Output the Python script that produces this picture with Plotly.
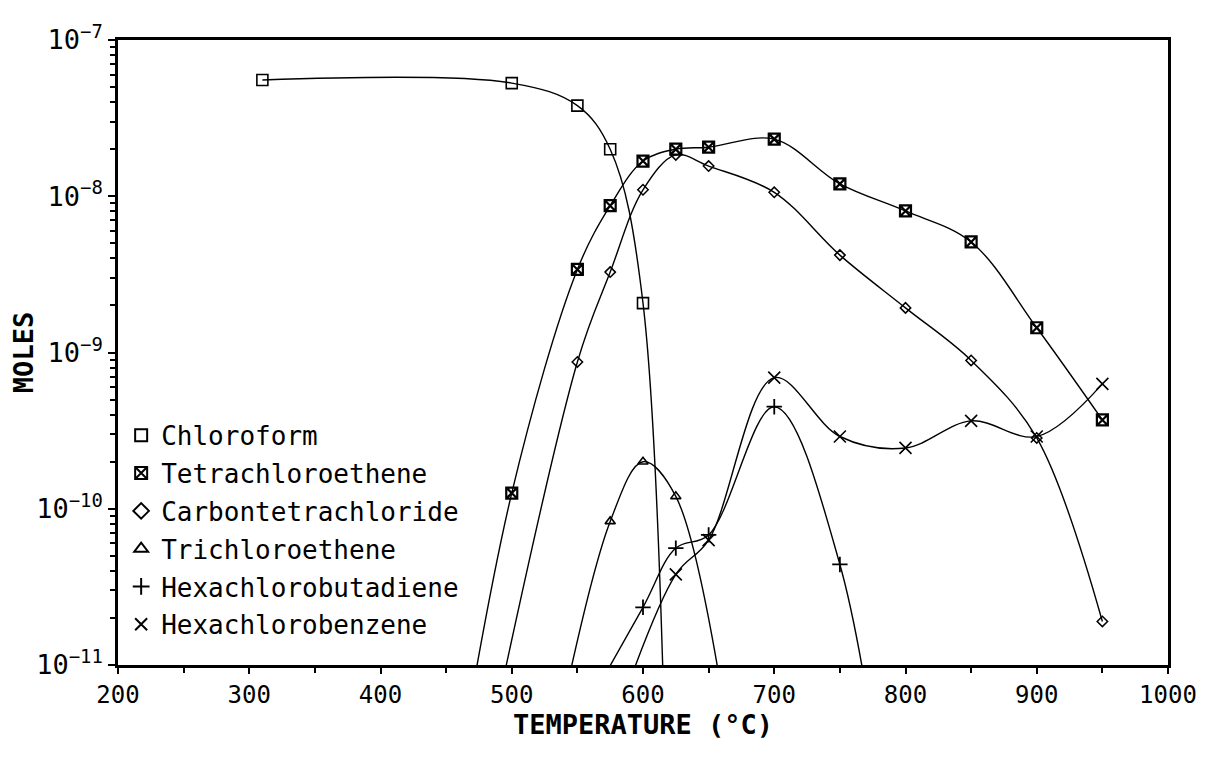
import plotly.graph_objects as go

# ---- data (temperature in °C, amount in moles) ----
chloroform_t = [310, 500, 550, 575, 600, 625]
chloroform = [5.55e-8, 5.3e-8, 3.8e-8, 2.0e-8, 2.07e-9, 1e-16]

tetra_t = [450, 500, 550, 575, 600, 625, 650, 700, 750, 800, 850, 900, 950]
tetra = [7e-13, 1.26e-10, 3.4e-9, 8.7e-9, 1.68e-8, 2.0e-8, 2.06e-8, 2.32e-8,
         1.2e-8, 8.05e-9, 5.1e-9, 1.44e-9, 3.7e-10]

carbon_t = [450, 550, 575, 600, 625, 650, 700, 750, 800, 850, 900, 950]
carbon = [1.5e-13, 8.7e-10, 3.27e-9, 1.1e-8, 1.84e-8, 1.56e-8, 1.06e-8,
          4.2e-9, 1.93e-9, 8.9e-10, 2.84e-10, 1.9e-11]

trichloro_t = [525, 575, 600, 625, 675]
trichloro = [1.5e-12, 8.3e-11, 2.0e-10, 1.2e-10, 1e-12]

hcbd_t = [550, 600, 625, 650, 700, 750, 800]
hcbd = [4.2e-12, 2.34e-11, 5.6e-11, 6.8e-11, 4.5e-10, 4.4e-11, 1e-13]

hcb_t = [575, 625, 650, 700, 750, 800, 850, 900, 950]
hcb = [3.5e-12, 3.8e-11, 6.3e-11, 6.9e-10, 2.9e-10, 2.45e-10, 3.65e-10,
       2.9e-10, 6.3e-10]

names = ["Chloroform", "Tetrachloroethene", "Carbontetrachloride",
         "Trichloroethene", "Hexachlorobutadiene", "Hexachlorobenzene"]
xs = [chloroform_t, tetra_t, carbon_t, trichloro_t, hcbd_t, hcb_t]
ys = [chloroform, tetra, carbon, trichloro, hcbd, hcb]
symbols = ["square-open", "square-x-open", "diamond-open", "triangle-up-open",
           "cross-thin-open", "x-thin-open"]
sizes = [11, 11, 8, 9, 11, 12]
mwidths = [1.6, 2.2, 1.5, 1.6, 1.8, 1.6]

x_ticks = [200, 300, 400, 500, 600, 700, 800, 900, 1000]
y_ticks = [1e-11, 1e-10, 1e-9, 1e-8, 1e-7]
y_ticktext = ["10<sup>−11</sup>", "10<sup>−10</sup>", "10<sup>−9</sup>",
              "10<sup>−8</sup>", "10<sup>−7</sup>"]

FONT = "DejaVu Sans Mono"

fig = go.Figure()
for name, x, y, sym, sz, mw in zip(names, xs, ys, symbols, sizes, mwidths):
    fig.add_trace(go.Scatter(
        x=x, y=y, mode="lines+markers", name=name, showlegend=False,
        line=dict(color="black", width=1.4, shape="spline", smoothing=1.0),
        marker=dict(symbol=sym, size=sz, color="black",
                    line=dict(color="black", width=mw)),
    ))
# legend entries (symbol only, as in the original key)
for i, (name, sym, mw) in enumerate(zip(names, symbols, mwidths)):
    fig.add_trace(go.Scatter(
        x=[None], y=[None], mode="markers", name=name, legendgroup=f"g{i}",
        marker=dict(symbol=sym, size=9, color="black",
                    line=dict(color="black", width=mw)),
    ))

minor_y = [m * 10.0 ** e for e in range(-11, -7) for m in range(2, 10)]

# the page adds an 8 px body margin; margins below compensate for it
fig.update_layout(
    width=1210, height=757,
    margin=dict(l=110, r=50, t=32, b=100),
    paper_bgcolor="white", plot_bgcolor="white",
    font=dict(family=FONT, color="black"),
    showlegend=True,
    legend=dict(x=0.003, y=0.405, xanchor="left", yanchor="top",
                bgcolor="rgba(0,0,0,0)", font=dict(size=26, family=FONT),
                itemsizing="constant", tracegroupgap=1),
    xaxis=dict(
        range=[200, 1000], tickvals=x_ticks, ticks="outside", ticklen=6,
        tickwidth=1.5, tickcolor="black", showgrid=False, zeroline=False,
        showline=True, linewidth=2.5, linecolor="black", mirror=True,
        automargin=False,
        tickfont=dict(size=24, family=FONT),
        minor=dict(tickvals=[250, 350, 450, 550, 650, 750, 850, 950],
                   ticks="outside", ticklen=5, tickwidth=1.5,
                   tickcolor="black", showgrid=False),
        title=dict(text="<b>TEMPERATURE (°C)</b>", font=dict(size=27, family=FONT),
                   standoff=0),
    ),
    yaxis=dict(
        type="log", range=[-11, -7], tickvals=y_ticks, ticktext=y_ticktext,
        ticks="outside", ticklen=7, tickwidth=1.5, tickcolor="black",
        showgrid=False, zeroline=False,
        showline=True, linewidth=2.5, linecolor="black", mirror=True,
        automargin=False,
        tickfont=dict(size=27, family=FONT),
        minor=dict(tickvals=minor_y, ticks="outside", ticklen=5, tickwidth=1.5,
                   tickcolor="black", showgrid=False),
        title=dict(text="<b>MOLES</b>", font=dict(size=27, family=FONT),
                   standoff=6),
    ),
)

fig.write_html("out.html")
